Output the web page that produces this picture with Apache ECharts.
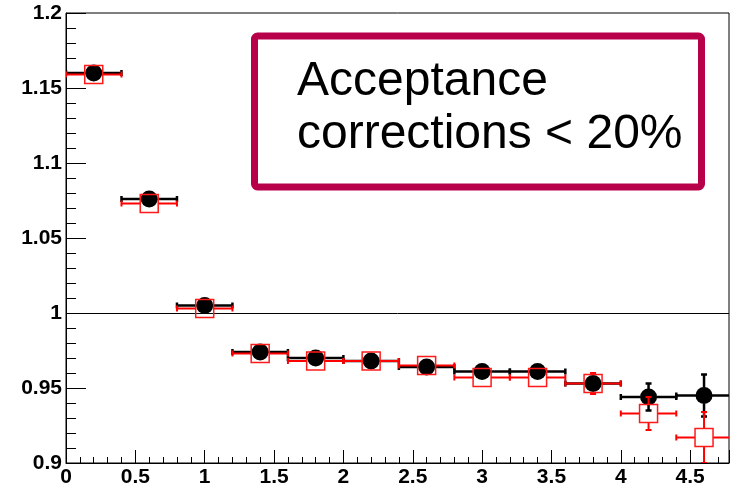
<!DOCTYPE html>
<html>
<head>
<meta charset="utf-8">
<script src="https://cdn.jsdelivr.net/npm/echarts@6/dist/echarts.min.js"></script>
<style>
  html, body { margin: 0; padding: 0; background: #fff; }
  #chart { width: 732px; height: 490px; }
</style>
</head>
<body>
<div id="chart"></div>
<script>
// Bin centres and half widths (x)
const binCenters = [0.2, 0.6, 1.0, 1.4, 1.8, 2.2, 2.6, 3.0, 3.4, 3.8, 4.2, 4.6];
const binHalfWidth = [0.2, 0.2, 0.2, 0.2, 0.2, 0.2, 0.2, 0.2, 0.2, 0.2, 0.2, 0.2];

// Filled circles: ratio and its uncertainty
const filledRatio = [1.160, 1.076, 1.005, 0.974, 0.970, 0.968, 0.964, 0.961, 0.961, 0.953, 0.944, 0.945];
const filledErr   = [0.002, 0.002, 0.002, 0.002, 0.002, 0.002, 0.002, 0.002, 0.002, 0.003, 0.009, 0.014];

// Open squares: ratio and its uncertainty
const openRatio = [1.159, 1.073, 1.003, 0.973, 0.968, 0.968, 0.965, 0.957, 0.957, 0.953, 0.933, 0.917];
const openErr   = [0.002, 0.002, 0.002, 0.002, 0.002, 0.002, 0.003, 0.003, 0.003, 0.007, 0.011, 0.017];

// Axis ranges and tick steps
const xRange = [0, 4.78];
const yRange = [0.9, 1.2];
const xMajor = 0.5, xMinor = 0.1, yMajor = 0.05;

// Annotation text
const noteLines = ['Acceptance', 'corrections < 20%'];

const chart = echarts.init(document.getElementById('chart'), null, { renderer: 'canvas' });

const labelFont = { fontFamily: '"Liberation Sans", Arial, sans-serif', fontWeight: 'bold', fontSize: 21, color: '#000' };

function rows(ratio, err) {
  return binCenters.map((x, i) => [x, ratio[i], binHalfWidth[i], err[i]]);
}

// Error bars drawn outward from the marker edge, with end caps
function errorBars(color, width, gap) {
  return function (params, api) {
    const x = api.value(0), y = api.value(1), ex = api.value(2), ey = api.value(3);
    const c = api.coord([x, y]);
    const l = api.coord([x - ex, y]);
    const r = api.coord([x + ex, y]);
    const t = api.coord([x, y + ey]);
    const b = api.coord([x, y - ey]);
    const cap = 3;
    const style = { stroke: color, lineWidth: width, fill: null };
    const segs = [];
    segs.push([[l[0], c[1]], [c[0] - gap, c[1]]]);
    segs.push([[c[0] + gap, c[1]], [r[0], c[1]]]);
    segs.push([[l[0], c[1] - cap], [l[0], c[1] + cap]]);
    segs.push([[r[0], c[1] - cap], [r[0], c[1] + cap]]);
    if (c[1] - t[1] > gap) {
      segs.push([[c[0], c[1] - gap], [c[0], t[1]]]);
      segs.push([[c[0] - cap, t[1]], [c[0] + cap, t[1]]]);
    }
    if (b[1] - c[1] > gap) {
      segs.push([[c[0], c[1] + gap], [c[0], b[1]]]);
      segs.push([[c[0] - cap, b[1]], [c[0] + cap, b[1]]]);
    }
    return {
      type: 'group',
      children: segs.map(s => ({
        type: 'line',
        shape: { x1: s[0][0], y1: s[0][1], x2: s[1][0], y2: s[1][1] },
        style: style
      }))
    };
  };
}

const option = {
  animation: false,
  backgroundColor: '#fff',
  grid: { left: 66, top: 13, width: 664, height: 450, show: true, borderColor: '#000', borderWidth: 1 },
  xAxis: [
    {
      type: 'value', min: xRange[0], max: xRange[1], interval: xMajor, position: 'bottom',
      axisLine: { show: true, lineStyle: { color: '#000', width: 1 } },
      axisTick: { show: true, inside: true, length: 13, lineStyle: { color: '#000', width: 1 } },
      splitLine: { show: false },
      axisLabel: {
        ...labelFont, margin: 4,
        formatter: v => (Math.abs(v / xMajor - Math.round(v / xMajor)) < 1e-6 ? String(+v.toFixed(2)) : '')
      }
    },
    {
      type: 'value', min: xRange[0], max: xRange[1], interval: xMinor, position: 'bottom',
      axisLine: { show: false },
      axisTick: { show: true, inside: true, length: 6, lineStyle: { color: '#000', width: 1 } },
      splitLine: { show: false },
      axisLabel: { show: false }
    }
  ],
  yAxis: {
    type: 'value', min: yRange[0], max: yRange[1], interval: yMajor,
    axisLine: { show: true, lineStyle: { color: '#000', width: 1 } },
    axisTick: { show: true, inside: true, length: 20, lineStyle: { color: '#000', width: 1 } },
    minorTick: { show: true, splitNumber: 5, length: 10, lineStyle: { color: '#000', width: 1 } },
    splitLine: { show: false },
    axisLabel: { ...labelFont, margin: 4, formatter: v => String(+v.toFixed(2)) }
  },
  series: [
    {
      name: 'filledErrors', type: 'custom', clip: true, z: 2,
      renderItem: errorBars('#000', 2.5, 8),
      data: rows(filledRatio, filledErr),
      markLine: {
        silent: true, symbol: 'none', label: { show: false },
        lineStyle: { color: '#000', width: 1, type: 'solid' },
        data: [{ yAxis: 1 }]
      }
    },
    {
      name: 'filled', type: 'scatter', z: 3, clip: true,
      symbol: 'circle', symbolSize: 17,
      itemStyle: { color: '#000', opacity: 1 },
      data: binCenters.map((x, i) => [x, filledRatio[i]])
    },
    {
      name: 'openErrors', type: 'custom', clip: true, z: 4,
      renderItem: errorBars('#ff0000', 2, 9),
      data: rows(openRatio, openErr)
    },
    {
      name: 'open', type: 'scatter', z: 5, clip: true,
      symbol: 'rect', symbolSize: 18,
      itemStyle: { color: 'rgba(0,0,0,0)', borderColor: '#ff1a1a', borderWidth: 1.5, opacity: 1 },
      data: binCenters.map((x, i) => [x, openRatio[i]])
    }
  ],
  graphic: [
    {
      type: 'rect', z: 10,
      shape: { x: 254.5, y: 36, width: 447, height: 151, r: 3 },
      style: { fill: '#fff', stroke: '#b8004a', lineWidth: 7 }
    },
    {
      type: 'text', z: 11, x: 297, y: 82,
      style: { text: noteLines[0], fill: '#000', font: '48px "Liberation Sans", Arial, sans-serif', verticalAlign: 'middle', align: 'left' }
    },
    {
      type: 'text', z: 11, x: 297, y: 135,
      style: { text: noteLines[1], fill: '#000', font: '48px "Liberation Sans", Arial, sans-serif', verticalAlign: 'middle', align: 'left' }
    }
  ]
};

chart.setOption(option);
</script>
</body>
</html>
